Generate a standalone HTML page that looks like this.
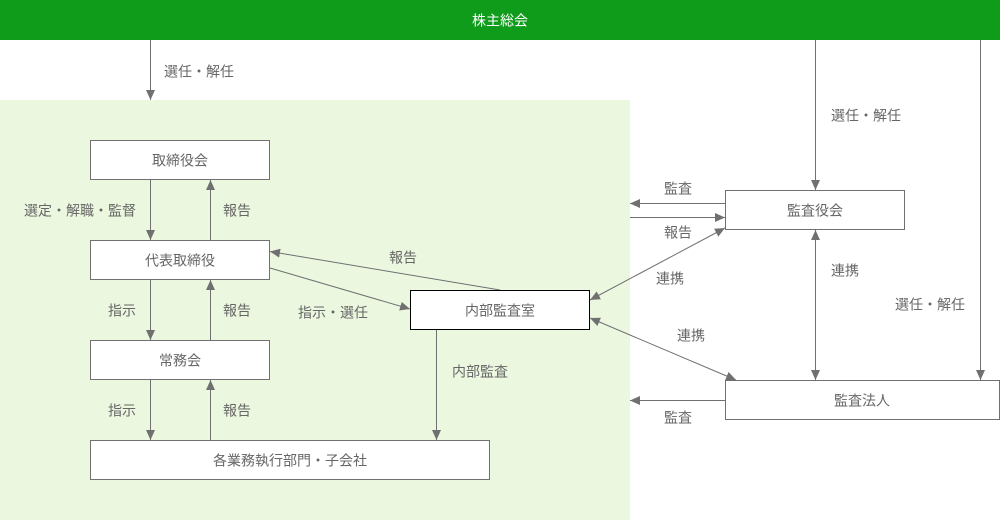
<!DOCTYPE html>
<html><head><meta charset="utf-8">
<style>
html,body{margin:0;padding:0;background:#fff;}
svg{display:block;}
text{font-family:"Liberation Sans","Noto Sans CJK JP",sans-serif;font-size:14px;fill:#666;dominant-baseline:central;}
.c{text-anchor:middle;}
</style></head>
<body>
<svg width="1000" height="520" viewBox="0 0 1000 520" xmlns="http://www.w3.org/2000/svg">
<defs>
<marker id="a" viewBox="0 0 10 10" refX="10" refY="5" markerWidth="10" markerHeight="9" markerUnits="userSpaceOnUse" orient="auto-start-reverse" preserveAspectRatio="none">
<path d="M0,0 L10,5 L0,10 z" fill="#707070"/>
</marker>
</defs>
<rect x="0" y="0" width="1000" height="40" fill="#109c1b"/>
<text x="500" y="20.5" class="c" style="fill:#fff">株主総会</text>
<rect x="0" y="100" width="630" height="420" fill="#ecf7df"/>

<g stroke="#707070" stroke-width="1" fill="none">
<path d="M150.5,40 V100" marker-end="url(#a)"/>
<path d="M150.5,180 V240" marker-end="url(#a)"/>
<path d="M210.5,240 V180" marker-end="url(#a)"/>
<path d="M150.5,280 V340" marker-end="url(#a)"/>
<path d="M210.5,340 V280" marker-end="url(#a)"/>
<path d="M150.5,380 V440" marker-end="url(#a)"/>
<path d="M210.5,440 V380" marker-end="url(#a)"/>
<path d="M436.5,330 V440" marker-end="url(#a)"/>
<path d="M270,268 L410,309" marker-end="url(#a)"/>
<path d="M500,290 L270,251.5" marker-end="url(#a)"/>
<path d="M815.5,40 V190" marker-end="url(#a)"/>
<path d="M980.5,40 V380" marker-end="url(#a)"/>
<path d="M725,203.5 H630" marker-end="url(#a)"/>
<path d="M630,217.5 H725" marker-end="url(#a)"/>
<path d="M590,300 L725,228" marker-start="url(#a)" marker-end="url(#a)"/>
<path d="M590,318 L736,380" marker-start="url(#a)" marker-end="url(#a)"/>
<path d="M815.5,230 V380" marker-start="url(#a)" marker-end="url(#a)"/>
<path d="M725,400.5 H630" marker-end="url(#a)"/>
</g>

<g fill="#fff" stroke="#707070" stroke-width="1">
<rect x="90.5" y="140.5" width="179" height="39"/>
<rect x="90.5" y="240.5" width="179" height="39"/>
<rect x="90.5" y="340.5" width="179" height="39"/>
<rect x="90.5" y="440.5" width="399" height="39"/>
<rect x="725.5" y="190.5" width="179" height="39"/>
<rect x="725.5" y="380.5" width="274" height="39"/>
<rect x="410.5" y="290.5" width="179" height="39" stroke="#000"/>
</g>

<text x="180" y="160.5" class="c">取締役会</text>
<text x="180" y="260.5" class="c">代表取締役</text>
<text x="180" y="360.5" class="c">常務会</text>
<text x="290" y="460.5" class="c">各業務執行部門・子会社</text>
<text x="500" y="310.5" class="c">内部監査室</text>
<text x="815" y="210.5" class="c">監査役会</text>
<text x="862" y="400.5" class="c">監査法人</text>

<text x="164" y="71.5">選任・解任</text>
<text x="24" y="210.5">選定・解職・監督</text>
<text x="223" y="210.5">報告</text>
<text x="108" y="310.5">指示</text>
<text x="223" y="310.5">報告</text>
<text x="108" y="410.5">指示</text>
<text x="223" y="410.5">報告</text>
<text x="389" y="257.5">報告</text>
<text x="298" y="312.5">指示・選任</text>
<text x="452" y="371.5">内部監査</text>
<text x="831" y="115.5">選任・解任</text>
<text x="664" y="188.5">監査</text>
<text x="664" y="232.5">報告</text>
<text x="656" y="278.5">連携</text>
<text x="677" y="335.5">連携</text>
<text x="831" y="270.5">連携</text>
<text x="895" y="304.5">選任・解任</text>
<text x="664" y="417.5">監査</text>
</svg>
</body></html>
